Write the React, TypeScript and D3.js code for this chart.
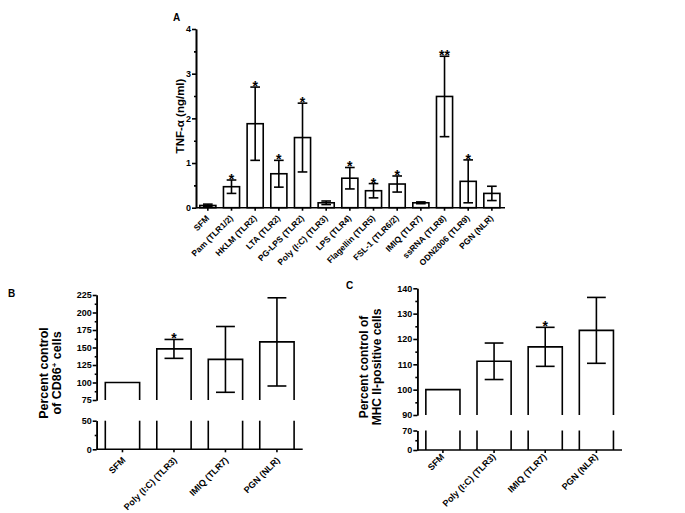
import React, { useEffect, useRef } from "react";
import * as d3 from "d3";

const aCategories = ["SFM", "Pam (TLR1/2)", "HKLM (TLR2)", "LTA (TLR2)", "PG-LPS (TLR2)", "Poly (I:C) (TLR3)", "LPS (TLR4)", "Flagellin (TLR5)", "FSL-1 (TLR6/2)", "IMIQ (TLR7)", "ssRNA (TLR8)", "ODN2006 (TLR9)", "PGN (NLR)"];
const aValues = [0.05, 0.47, 1.88, 0.76, 1.57, 0.11, 0.66, 0.38, 0.53, 0.11, 2.49, 0.59, 0.32];
const aErrors = [0.03, 0.15, 0.82, 0.30, 0.77, 0.04, 0.24, 0.16, 0.18, 0.02, 0.90, 0.48, 0.16];
const aSignif = ["", "*", "*", "*", "*", "", "*", "*", "*", "", "**", "*", ""];
const aTicks = [0, 1, 2, 3, 4];

const bcCategories = ["SFM", "Poly (I:C) (TLR3)", "IMIQ (TLR7)", "PGN (NLR)"];
const bValues = [100, 148, 133, 158];
const bErrors = [0, 13.5, 47, 63];
const bSignif = ["", "*", "", ""];
const bUpperTicks = [75, 100, 125, 150, 175, 200, 225];
const bLowerTicks = [0, 50];

const cValues = [100, 111.2, 116.9, 123.4];
const cErrors = [0, 7.2, 7.7, 13];
const cSignif = ["", "", "*", ""];
const cUpperTicks = [90, 100, 110, 120, 130, 140];
const cLowerTicks = [0, 70];

const FONT = "'Liberation Sans', Arial, Helvetica, sans-serif";
const SW = 1.6;

function midpoints(t: number[]) {
  const r: number[] = [];
  for (let i = 0; i < t.length - 1; i++) r.push((t[i] + t[i + 1]) / 2);
  return r;
}

function yAxis(g: any, scale: any, major: number[], x: number) {
  const ax = g.append("g").attr("transform", `translate(${x},0)`);
  ax.call(d3.axisLeft(scale).tickValues(major).tickSize(4).tickSizeOuter(0).tickPadding(1).tickFormat(d3.format("d") as any));
  const mn = g.append("g").attr("transform", `translate(${x},0)`);
  mn.call(d3.axisLeft(scale).tickValues(midpoints(major)).tickSize(2).tickSizeOuter(0).tickFormat(() => ""));
  [ax, mn].forEach((a) => {
    a.selectAll("path").attr("stroke-width", SW).attr("stroke", "#000");
    a.selectAll("line").attr("stroke-width", SW).attr("stroke", "#000");
  });
  ax.selectAll("text").attr("font-family", FONT).attr("font-weight", "bold").attr("font-size", 9).attr("fill", "#000");
}

function xLabels(g: any, x: any, cats: string[], y: number, dx: number, dy: number, fs: number) {
  cats.forEach((c) => {
    const cx = (x(c) as number) + x.bandwidth() / 2;
    g.append("line").attr("x1", cx).attr("x2", cx).attr("y1", y).attr("y2", y + 3).attr("stroke", "#000").attr("stroke-width", SW);
    g.append("text")
      .attr("transform", `translate(${cx + dx},${y + dy}) rotate(-45)`)
      .attr("text-anchor", "end")
      .attr("font-family", FONT).attr("font-weight", "bold").attr("font-size", fs)
      .text(c);
  });
}

function errBar(g: any, cx: number, yTop: number, yBot: number, cw: number) {
  g.append("line").attr("x1", cx).attr("x2", cx).attr("y1", yTop).attr("y2", yBot).attr("stroke", "#000").attr("stroke-width", SW);
  g.append("line").attr("x1", cx - cw / 2).attr("x2", cx + cw / 2).attr("y1", yTop).attr("y2", yTop).attr("stroke", "#000").attr("stroke-width", SW);
  g.append("line").attr("x1", cx - cw / 2).attr("x2", cx + cw / 2).attr("y1", yBot).attr("y2", yBot).attr("stroke", "#000").attr("stroke-width", SW);
}

function star(g: any, cx: number, yTop: number, s: string) {
  if (!s) return;
  g.append("text").attr("x", cx).attr("y", yTop + 4).attr("text-anchor", "middle")
    .attr("font-family", FONT).attr("font-weight", "bold").attr("font-size", 14).text(s);
}

function panelLetter(g: any, x: number, y: number, s: string) {
  g.append("text").attr("x", x).attr("y", y).attr("font-family", FONT).attr("font-weight", "bold").attr("font-size", 10).text(s);
}

function drawA(svg: any) {
  const g = svg.append("g");
  const x0 = 196, x1 = 503.7;
  const x = d3.scaleBand().domain(aCategories).range([x0, x1]).paddingInner(0.32).paddingOuter(0.16);
  const y = d3.scaleLinear().domain([0, 4]).range([207.7, 29]);
  aCategories.forEach((c, i) => {
    const bx = x(c) as number, w = x.bandwidth();
    g.append("rect").attr("x", bx).attr("y", y(aValues[i])).attr("width", w).attr("height", y(0) - y(aValues[i]))
      .attr("fill", "#fff").attr("stroke", "#000").attr("stroke-width", SW);
    const cx = bx + w / 2;
    errBar(g, cx, y(aValues[i] + aErrors[i]), y(Math.max(0, aValues[i] - aErrors[i])), w * 0.6);
    star(g, cx, y(aValues[i] + aErrors[i]), aSignif[i]);
  });
  yAxis(g, y, aTicks, x0);
  g.append("line").attr("x1", x0).attr("x2", 505).attr("y1", y(0)).attr("y2", y(0)).attr("stroke", "#000").attr("stroke-width", SW);
  xLabels(g, x, aCategories, y(0), 2, 11, 8.5);
  g.append("text").attr("transform", `translate(183.5,116) rotate(-90)`).attr("text-anchor", "middle")
    .attr("font-family", FONT).attr("font-weight", "bold").attr("font-size", 11.5).text("TNF-α (ng/ml)");
  panelLetter(g, 173, 21, "A");
}

function drawBroken(svg: any, opts: any) {
  const g = svg.append("g");
  const { x0, x1, vals, errs, sig, upperTicks, lowerTicks, uRange, lRange, ldx, ldy } = opts;
  const x = d3.scaleBand().domain(bcCategories).range([x0, x1]).paddingInner(0.333).paddingOuter(0.167);
  const uMin = upperTicks[0], uMax = upperTicks[upperTicks.length - 1];
  const lMax = lowerTicks[lowerTicks.length - 1];
  const yU = d3.scaleLinear().domain([uMin, uMax]).range(uRange);
  const yL = d3.scaleLinear().domain([0, lMax]).range(lRange);
  bcCategories.forEach((c, i) => {
    const bx = x(c) as number, w = x.bandwidth();
    const v = vals[i];
    g.append("path").attr("d", `M${bx},${yU(uMin)}L${bx},${yU(v)}L${bx + w},${yU(v)}L${bx + w},${yU(uMin)}`)
      .attr("fill", "#fff").attr("stroke", "#000").attr("stroke-width", SW);
    [bx, bx + w].forEach((lx) => {
      g.append("line").attr("x1", lx).attr("x2", lx).attr("y1", yL(0)).attr("y2", yL(lMax)).attr("stroke", "#000").attr("stroke-width", SW);
    });
    const cx = bx + w / 2;
    if (errs[i] > 0) {
      errBar(g, cx, yU(v + errs[i]), yU(v - errs[i]), w * 0.55);
      star(g, cx, yU(v + errs[i]), sig[i]);
    }
  });
  yAxis(g, yU, upperTicks, x0);
  yAxis(g, yL, lowerTicks, x0);
  g.append("line").attr("x1", x0).attr("x2", x1).attr("y1", yL(0)).attr("y2", yL(0)).attr("stroke", "#000").attr("stroke-width", SW);
  xLabels(g, x, bcCategories, yL(0), ldx, ldy, 9);
  return { g };
}

function yLabel2(g: any, x1: number, x2: number, cy: number, fs: number, l1: any, l2: any) {
  const t1 = g.append("text").attr("transform", `translate(${x1},${cy}) rotate(-90)`).attr("text-anchor", "middle")
    .attr("font-family", FONT).attr("font-weight", "bold").attr("font-size", fs);
  l1(t1);
  const t2 = g.append("text").attr("transform", `translate(${x2},${cy}) rotate(-90)`).attr("text-anchor", "middle")
    .attr("font-family", FONT).attr("font-weight", "bold").attr("font-size", fs);
  l2(t2);
}

export default function App() {
  const ref = useRef<SVGSVGElement>(null);
  useEffect(() => {
    const svg = d3.select(ref.current);
    svg.selectAll("*").remove();
    svg.append("rect").attr("width", 685).attr("height", 513).attr("fill", "#fff");
    drawA(svg);
    const b = drawBroken(svg, {
      x0: 96.7, x1: 302.7, vals: bValues, errs: bErrors, sig: bSignif,
      upperTicks: bUpperTicks, lowerTicks: bLowerTicks, uRange: [400, 295], lRange: [449.3, 420.7], ldx: 3.5, ldy: 11.5,
    });
    yLabel2(b.g, 47.5, 61, 373, 12.5,
      (t: any) => t.text("Percent control"),
      (t: any) => { t.append("tspan").text("of CD86"); t.append("tspan").attr("baseline-shift", "super").attr("font-size", 8).text("+"); t.append("tspan").text(" cells"); });
    panelLetter(b.g, 8, 297, "B");
    const c = drawBroken(svg, {
      x0: 417.3, x1: 622, vals: cValues, errs: cErrors, sig: cSignif,
      upperTicks: cUpperTicks, lowerTicks: cLowerTicks, uRange: [415, 288.3], lRange: [450, 430.5], ldx: 2, ldy: 7.5,
    });
    yLabel2(c.g, 367.5, 381, 367, 12,
      (t: any) => t.text("Percent control of"),
      (t: any) => t.text("MHC II-positive cells"));
    panelLetter(c.g, 346, 289, "C");
  }, []);
  return (
    <svg ref={ref} width={685} height={513} style={{ position: "absolute", left: 0, top: 0, display: "block" }} />
  );
}
